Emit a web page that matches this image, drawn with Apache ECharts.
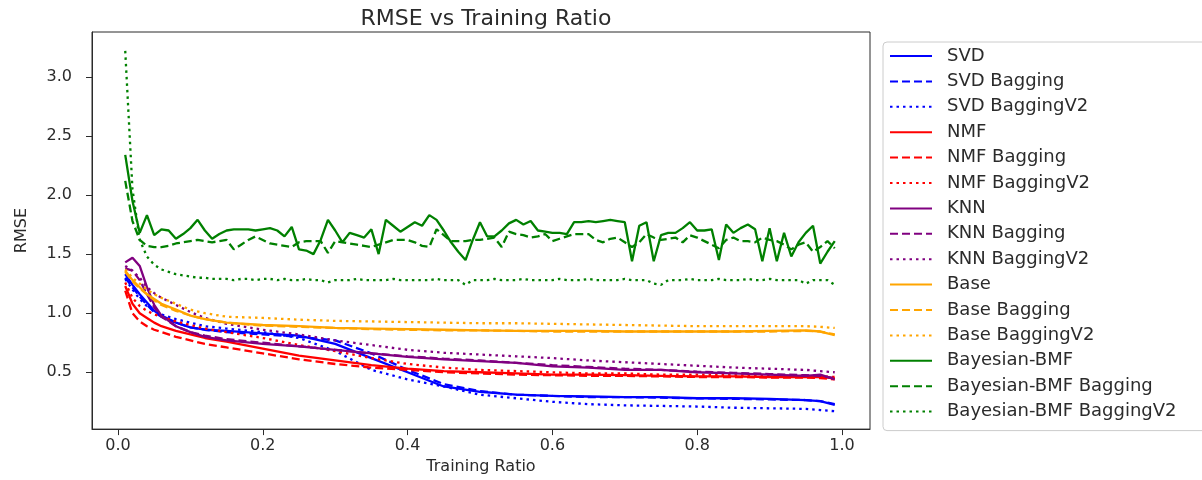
<!DOCTYPE html>
<html>
<head>
<meta charset="utf-8">
<script src="https://cdn.jsdelivr.net/npm/echarts@6/dist/echarts.min.js"></script>
<style>
html,body{margin:0;padding:0;background:#fff;}
#chart{width:1202px;height:480px;}
</style>
</head>
<body>
<div id="chart"></div>
<script>
// Fine x grid (training ratios) for the Bayesian-BMF runs
const ratiosFine = [0.01,0.02,0.03,0.04,0.05,0.06,0.07,0.08,0.09,0.10,
0.11,0.12,0.13,0.14,0.15,0.16,0.17,0.18,0.19,0.20,
0.21,0.22,0.23,0.24,0.25,0.26,0.27,0.28,0.29,0.30,
0.31,0.32,0.33,0.34,0.35,0.36,0.37,0.38,0.39,0.40,
0.41,0.42,0.43,0.44,0.45,0.46,0.47,0.48,0.49,0.50,
0.51,0.52,0.53,0.54,0.55,0.56,0.57,0.58,0.59,0.60,
0.61,0.62,0.63,0.64,0.65,0.66,0.67,0.68,0.69,0.70,
0.71,0.72,0.73,0.74,0.75,0.76,0.77,0.78,0.79,0.80,
0.81,0.82,0.83,0.84,0.85,0.86,0.87,0.88,0.89,0.90,
0.91,0.92,0.93,0.94,0.95,0.96,0.97,0.98,0.99];

// Coarser x grid for the smooth curves
const ratiosCoarse = [0.01,0.02,0.03,0.04,0.05,0.06,0.08,0.10,0.12,0.15,0.20,0.25,0.30,0.35,0.40,0.45,0.50,0.55,0.60,0.65,0.70,0.75,0.80,0.85,0.90,0.95,0.97,0.99];

const svd          = [1.33,1.24,1.16,1.09,1.02,0.98,0.92,0.88,0.86,0.85,0.83,0.81,0.74,0.62,0.50,0.38,0.335,0.31,0.30,0.295,0.29,0.29,0.28,0.28,0.275,0.265,0.255,0.225];
const svdBagging   = [1.30,1.22,1.14,1.07,1.01,0.97,0.92,0.88,0.86,0.84,0.82,0.80,0.77,0.66,0.52,0.40,0.34,0.31,0.30,0.29,0.29,0.285,0.28,0.275,0.27,0.265,0.255,0.23];
const svdBaggingV2 = [1.29,1.20,1.12,1.06,1.02,0.99,0.95,0.92,0.89,0.87,0.84,0.79,0.68,0.52,0.44,0.38,0.31,0.28,0.25,0.23,0.22,0.215,0.21,0.20,0.195,0.19,0.18,0.17];

const nmf          = [1.23,1.08,1.00,0.96,0.92,0.89,0.85,0.82,0.79,0.76,0.70,0.64,0.60,0.56,0.53,0.51,0.50,0.49,0.48,0.48,0.475,0.47,0.465,0.465,0.46,0.46,0.46,0.45];
const nmfBagging   = [1.19,1.00,0.93,0.89,0.86,0.84,0.80,0.77,0.74,0.71,0.66,0.61,0.57,0.54,0.52,0.50,0.49,0.48,0.475,0.47,0.47,0.465,0.46,0.46,0.455,0.455,0.45,0.44];
const nmfBaggingV2 = [1.26,1.13,1.06,1.02,0.99,0.97,0.93,0.90,0.87,0.84,0.79,0.73,0.68,0.62,0.57,0.54,0.52,0.51,0.50,0.49,0.49,0.48,0.48,0.475,0.47,0.47,0.465,0.46];

const knn          = [1.43,1.47,1.40,1.22,1.07,0.98,0.89,0.84,0.80,0.77,0.74,0.72,0.69,0.66,0.63,0.61,0.595,0.58,0.55,0.54,0.52,0.52,0.50,0.49,0.48,0.47,0.48,0.44];
const knnBagging   = [1.38,1.36,1.28,1.16,1.05,0.97,0.89,0.84,0.81,0.78,0.75,0.72,0.69,0.66,0.635,0.615,0.60,0.58,0.56,0.545,0.53,0.52,0.505,0.495,0.485,0.475,0.47,0.45];
const knnBaggingV2 = [1.40,1.36,1.30,1.22,1.17,1.13,1.07,1.01,0.96,0.91,0.86,0.82,0.77,0.73,0.69,0.665,0.65,0.635,0.62,0.60,0.585,0.57,0.555,0.54,0.53,0.52,0.51,0.50];

const base          = [1.36,1.28,1.22,1.16,1.12,1.08,1.03,0.98,0.95,0.92,0.90,0.89,0.875,0.87,0.865,0.86,0.855,0.85,0.85,0.85,0.845,0.845,0.845,0.845,0.85,0.855,0.845,0.815];
const baseBagging   = [1.35,1.27,1.21,1.16,1.11,1.07,1.02,0.98,0.95,0.92,0.895,0.885,0.875,0.865,0.86,0.855,0.855,0.85,0.845,0.845,0.845,0.845,0.845,0.845,0.845,0.85,0.845,0.82];
const baseBaggingV2 = [1.37,1.30,1.25,1.20,1.16,1.13,1.08,1.03,1.00,0.97,0.96,0.945,0.935,0.93,0.925,0.92,0.915,0.915,0.91,0.905,0.90,0.895,0.89,0.89,0.89,0.89,0.885,0.875];

const bmf = [2.34,1.95,1.68,1.83,1.66,1.71,1.70,1.63,1.67,1.72,
1.79,1.70,1.63,1.67,1.70,1.71,1.71,1.71,1.70,1.71,
1.72,1.70,1.65,1.73,1.54,1.53,1.50,1.62,1.79,1.70,
1.60,1.68,1.66,1.64,1.71,1.50,1.79,1.74,1.69,1.73,
1.77,1.74,1.83,1.79,1.70,1.60,1.52,1.45,1.62,1.77,
1.65,1.65,1.70,1.76,1.79,1.75,1.78,1.70,1.69,1.68,
1.68,1.67,1.77,1.77,1.78,1.77,1.78,1.79,1.78,1.77,
1.44,1.74,1.77,1.44,1.66,1.68,1.68,1.72,1.77,1.70,
1.70,1.71,1.45,1.75,1.68,1.72,1.75,1.71,1.44,1.72,
1.44,1.68,1.48,1.60,1.68,1.74,1.42,1.52,1.61];

const bmfBagging = [2.12,1.78,1.62,1.57,1.56,1.56,1.57,1.59,1.60,1.61,
1.62,1.61,1.60,1.61,1.62,1.54,1.58,1.62,1.65,1.62,
1.59,1.58,1.57,1.56,1.60,1.61,1.61,1.61,1.51,1.61,
1.60,1.59,1.58,1.57,1.56,1.58,1.60,1.62,1.62,1.62,
1.60,1.57,1.56,1.71,1.66,1.61,1.61,1.61,1.62,1.62,
1.63,1.64,1.56,1.69,1.67,1.66,1.64,1.65,1.67,1.61,
1.63,1.65,1.67,1.67,1.67,1.62,1.60,1.63,1.64,1.60,
1.56,1.60,1.67,1.64,1.62,1.63,1.64,1.60,1.66,1.64,
1.61,1.58,1.55,1.62,1.64,1.61,1.61,1.60,1.64,1.62,
1.61,1.58,1.54,1.58,1.60,1.52,1.56,1.61,1.55];

const bmfBaggingV2 = [3.22,2.05,1.62,1.48,1.41,1.37,1.35,1.33,1.32,1.31,
1.30,1.30,1.29,1.29,1.29,1.28,1.29,1.29,1.28,1.29,
1.29,1.28,1.29,1.28,1.28,1.29,1.28,1.28,1.26,1.28,
1.28,1.28,1.29,1.28,1.28,1.28,1.28,1.29,1.28,1.28,
1.28,1.28,1.28,1.29,1.28,1.28,1.28,1.24,1.28,1.28,
1.28,1.29,1.28,1.28,1.28,1.29,1.28,1.28,1.28,1.28,
1.29,1.28,1.28,1.28,1.29,1.28,1.28,1.28,1.28,1.29,
1.28,1.28,1.28,1.25,1.24,1.28,1.28,1.28,1.29,1.28,
1.28,1.28,1.29,1.28,1.28,1.28,1.29,1.28,1.28,1.29,
1.28,1.28,1.28,1.28,1.25,1.28,1.28,1.28,1.24];

const xTicks = [0.0,0.2,0.4,0.6,0.8,1.0];
const yTicks = [0.5,1.0,1.5,2.0,2.5,3.0];

const FONT = 'DejaVu Sans';
const TXT = '#2b2b2b';
const DASH = [8,4];
const DOT = [2.5,4];

function pairs(xs, ys){ return ys.map((y,i)=>[xs[i], y]); }

const seriesDefs = [
  ['SVD', ratiosCoarse, svd, '#0000ff', 'solid'],
  ['SVD Bagging', ratiosCoarse, svdBagging, '#0000ff', DASH],
  ['SVD BaggingV2', ratiosCoarse, svdBaggingV2, '#0000ff', DOT],
  ['NMF', ratiosCoarse, nmf, '#ff0000', 'solid'],
  ['NMF Bagging', ratiosCoarse, nmfBagging, '#ff0000', DASH],
  ['NMF BaggingV2', ratiosCoarse, nmfBaggingV2, '#ff0000', DOT],
  ['KNN', ratiosCoarse, knn, '#800080', 'solid'],
  ['KNN Bagging', ratiosCoarse, knnBagging, '#800080', DASH],
  ['KNN BaggingV2', ratiosCoarse, knnBaggingV2, '#800080', DOT],
  ['Base', ratiosCoarse, base, '#ffa500', 'solid'],
  ['Base Bagging', ratiosCoarse, baseBagging, '#ffa500', DASH],
  ['Base BaggingV2', ratiosCoarse, baseBaggingV2, '#ffa500', DOT],
  ['Bayesian-BMF', ratiosFine, bmf, '#008000', 'solid'],
  ['Bayesian-BMF Bagging', ratiosFine, bmfBagging, '#008000', DASH],
  ['Bayesian-BMF BaggingV2', ratiosFine, bmfBaggingV2, '#008000', DOT]
];

const series = seriesDefs.map(([name, xs, ys, color, type]) => ({
  name: name,
  type: 'line',
  data: pairs(xs, ys),
  showSymbol: false,
  symbol: 'none',
  color: color,
  lineStyle: { color: color, width: 2.3, type: type },
  animation: false,
  silent: true
}));

const chart = echarts.init(document.getElementById('chart'), null, {renderer: 'canvas'});
chart.setOption({
  backgroundColor: '#fff',
  animation: false,
  title: {
    text: 'RMSE vs Training Ratio',
    left: 481,
    textAlign: 'center',
    top: 3,
    textStyle: { fontFamily: FONT, fontSize: 22, fontWeight: 'normal', color: TXT }
  },
  grid: {
    left: 92, right: 332, top: 32, bottom: 50,
    show: true, borderColor: '#2b2b2b', borderWidth: 1, backgroundColor: '#fff'
  },
  legend: {
    orient: 'vertical',
    left: 883,
    top: 42,
    padding: [5, 60, 10, 6],
    itemWidth: 42,
    itemHeight: 14,
    itemGap: 7.4,
    borderColor: '#cccccc',
    borderWidth: 1,
    borderRadius: 4,
    backgroundColor: '#fff',
    itemStyle: { opacity: 0 },
    textStyle: { fontFamily: FONT, fontSize: 18, color: TXT, lineHeight: 18, padding: [0,0,0,10] },
    data: seriesDefs.map(d => d[0])
  },
  xAxis: {
    type: 'value',
    min: -0.0359,
    max: 1.0387,
    name: 'Training Ratio',
    nameLocation: 'middle',
    nameGap: 28,
    nameTextStyle: { fontFamily: FONT, fontSize: 16, color: TXT },
    axisLine: { show: true, onZero: false, lineStyle: { color: '#2b2b2b', width: 1 } },
    axisTick: { show: true, inside: false, length: 6, lineStyle: { color: '#2b2b2b' }, customValues: xTicks },
    axisLabel: { fontFamily: FONT, fontSize: 16, color: TXT, margin: 9, customValues: xTicks, formatter: v => v.toFixed(1) },
    splitLine: { show: false }
  },
  yAxis: {
    type: 'value',
    min: 0.019,
    max: 3.38,
    name: 'RMSE',
    nameLocation: 'middle',
    nameGap: 62,
    nameTextStyle: { fontFamily: FONT, fontSize: 16, color: TXT },
    axisLine: { show: true, onZero: false, lineStyle: { color: '#2b2b2b', width: 1 } },
    axisTick: { show: true, inside: false, length: 6, lineStyle: { color: '#2b2b2b' }, customValues: yTicks },
    axisLabel: { fontFamily: FONT, fontSize: 16, color: TXT, margin: 20, customValues: yTicks, formatter: v => v.toFixed(1) },
    splitLine: { show: false }
  },
  series: series
});
</script>
</body>
</html>
